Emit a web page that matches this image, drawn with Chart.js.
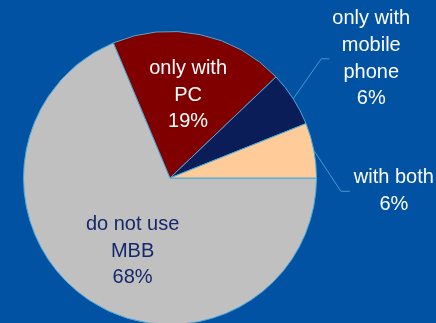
<!DOCTYPE html>
<html>
<head>
<meta charset="utf-8">
<script src="https://cdn.jsdelivr.net/npm/chart.js@4.4.1/dist/chart.umd.min.js"></script>
<style>
  html, body { margin: 0; padding: 0; background: #0152a2; overflow: hidden; }
  #wrap { width: 436px; height: 340px; }
</style>
</head>
<body>
<div id="wrap"><canvas id="mbbChart" width="436" height="340"></canvas></div>
<script>
// MBB usage shares
let sliceNames = [['do not use', 'MBB'], ['only with', 'PC'], ['only with', 'mobile', 'phone'], ['with both']]
let sliceShares = [68, 19, 6, 6]
let sliceColors = ['#c0c0c0', '#800000', '#0b1d58', '#ffcc99']
let labelColors = ['#14286a', '#ffffff', '#ffffff', '#ffffff']

// where each label goes: inside the slice (radius fraction, turn in degrees),
// or outside with a leader line
let labelPlacement = [
    { inside: true, r: 0.56, turn: -6.5 },
    { inside: true, r: 0.58, turn: 0.5 },
    { inside: false, elbow: [28, -40], tail: 8, gap: 42 },
    { inside: false, elbow: [27, 41], tail: 9, gap: 44 }
]

let sliceLabels = {
    id: 'sliceLabels',
    afterDatasetsDraw(chart) {
        let ctx = chart.ctx
        let arcs = chart.getDatasetMeta(0).data
        let lineH = 26.7
        ctx.save()
        ctx.font = '20px "Liberation Sans", Arial, sans-serif'
        ctx.textAlign = 'center'
        ctx.textBaseline = 'middle'
        arcs.forEach(function (arc, i) {
            let p = arc.getProps(['x', 'y', 'startAngle', 'endAngle', 'outerRadius'], true)
            let mid = (p.startAngle + p.endAngle) / 2
            let lines = sliceNames[i].concat([sliceShares[i] + '%'])
            let place = labelPlacement[i]
            let cx, cy
            if (place.inside) {
                let a = mid + place.turn * Math.PI / 180
                cx = p.x + Math.cos(a) * p.outerRadius * place.r
                cy = p.y + Math.sin(a) * p.outerRadius * place.r
            } else {
                let ex = p.x + Math.cos(mid) * p.outerRadius
                let ey = p.y + Math.sin(mid) * p.outerRadius
                let bx = ex + place.elbow[0]
                let by = ey + place.elbow[1]
                ctx.beginPath()
                ctx.strokeStyle = '#3a9fd0'
                ctx.lineWidth = 1
                ctx.moveTo(ex, ey)
                ctx.lineTo(bx, by)
                ctx.lineTo(bx + place.tail, by)
                ctx.stroke()
                cx = bx + place.tail + place.gap
                cy = by
            }
            ctx.fillStyle = labelColors[i]
            let top = cy - (lines.length - 1) * lineH / 2
            lines.forEach(function (txt, k) {
                ctx.fillText(txt, cx, top + k * lineH)
            })
        })
        ctx.restore()
    }
}

let ctx = document.getElementById('mbbChart').getContext('2d')

let mbbChart = new Chart(ctx, {
    type: 'pie',
    data: {
        labels: sliceNames.map(n => n.join(' ')),
        datasets: [{
            data: sliceShares,
            backgroundColor: sliceColors,
            borderColor: '#4aaad8',
            borderWidth: 1
        }]
    },
    options: {
        responsive: false,
        animation: false,
        rotation: 90, // first slice starts at 3 o'clock
        layout: {
            padding: { left: 23, right: 119, top: 31, bottom: 15 }
        },
        plugins: {
            legend: { display: false },
            tooltip: { enabled: false }
        }
    },
    plugins: [sliceLabels]
})
</script>
</body>
</html>
